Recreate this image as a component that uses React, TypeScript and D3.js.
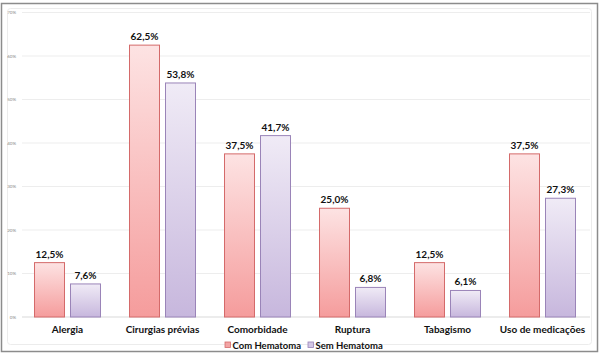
import React from "react";
import * as d3 from "d3";

const categories = ["Alergia", "Cirurgias prévias", "Comorbidade", "Ruptura", "Tabagismo", "Uso de medicações"];
const seriesNames = ["Com Hematoma", "Sem Hematoma"];
const comHematoma = [12.5, 62.5, 37.5, 25.0, 12.5, 37.5];
const semHematoma = [7.6, 53.8, 41.7, 6.8, 6.1, 27.3];
const yTicks = [0, 10, 20, 30, 40, 50, 60, 70];

const W = 600;
const H = 354;
const font = "Lato, 'Open Sans', sans-serif";

export default function App() {
  const x = d3.scaleBand<string>().domain(categories).range([20, 590]).padding(0);
  const xi = d3
    .scaleBand<string>()
    .domain(seriesNames)
    .range([0, x.bandwidth()])
    .paddingInner(1 / 6)
    .paddingOuter(0.403);
  const y = d3.scaleLinear().domain([0, 70]).range([317, 12.5]);
  const series = [comHematoma, semHematoma];
  const fills = ["url(#gCom)", "url(#gSem)"];
  const strokes = ["#d46a6a", "#9a84b8"];
  const fmt = (v: number) => v.toFixed(1).replace(".", ",") + "%";

  return (
    <svg width={W} height={H} style={{ position: "absolute", left: 0, top: 0 }}>
      <defs>
        <linearGradient id="gCom" x1="0" y1="0" x2="0" y2="1">
          <stop offset="0%" stopColor="#fde3e3" />
          <stop offset="100%" stopColor="#f59c9c" />
        </linearGradient>
        <linearGradient id="gSem" x1="0" y1="0" x2="0" y2="1">
          <stop offset="0%" stopColor="#f0ebf6" />
          <stop offset="100%" stopColor="#c7b7dd" />
        </linearGradient>
      </defs>
      <rect x={0} y={0} width={W} height={H} fill="#fff" />
      <rect x={1.5} y={3.5} width={596} height={348} fill="none" stroke="#8c8c8c" strokeWidth={1.5} />
      <rect x={7.5} y={8.5} width={584} height={336} fill="none" stroke="#ececec" strokeWidth={1} rx={3} />
      {yTicks.map((t) => (
        <g key={t}>
          <line x1={22} x2={590} y1={y(t)} y2={y(t)} stroke={t === 0 ? "#d9d9d9" : "#ededed"} strokeWidth={1} />
          <text x={16} y={y(t) + 1.5} fontSize={4.5} fill="#888" textAnchor="end" fontFamily={font}>
            {t}%
          </text>
        </g>
      ))}
      {categories.map((c, i) => (
        <g key={c}>
          {series.map((s, j) => {
            const bx = (x(c) ?? 0) + (xi(seriesNames[j]) ?? 0);
            const bw = xi.bandwidth();
            const top = y(s[i]);
            return (
              <g key={j}>
                <rect x={bx} y={top} width={bw} height={y(0) - top} fill={fills[j]} stroke={strokes[j]} strokeWidth={1} />
                <text
                  x={bx + bw / 2}
                  y={top - 5}
                  fontSize={10}
                  fontWeight="bold"
                  textAnchor="middle"
                  fontFamily={font}
                  fill="#111"
                >
                  {fmt(s[i])}
                </text>
              </g>
            );
          })}
          <text
            x={(x(c) ?? 0) + x.bandwidth() / 2}
            y={333}
            fontSize={10}
            fontWeight="bold"
            textAnchor="middle"
            fontFamily={font}
            fill="#111"
          >
            {c}
          </text>
        </g>
      ))}
      {seriesNames.map((n, j) => {
        const lx = j === 0 ? 225 : 308;
        return (
          <g key={n}>
            <rect x={lx} y={342} width={5.5} height={5.5} fill={j === 0 ? "#f3a5a5" : "#d3c7e6"} stroke={strokes[j]} strokeWidth={0.8} />
            <text x={lx + 7.5} y={348.5} fontSize={9.5} fontWeight="bold" fontFamily={font} fill="#111">
              {n}
            </text>
          </g>
        );
      })}
    </svg>
  );
}
